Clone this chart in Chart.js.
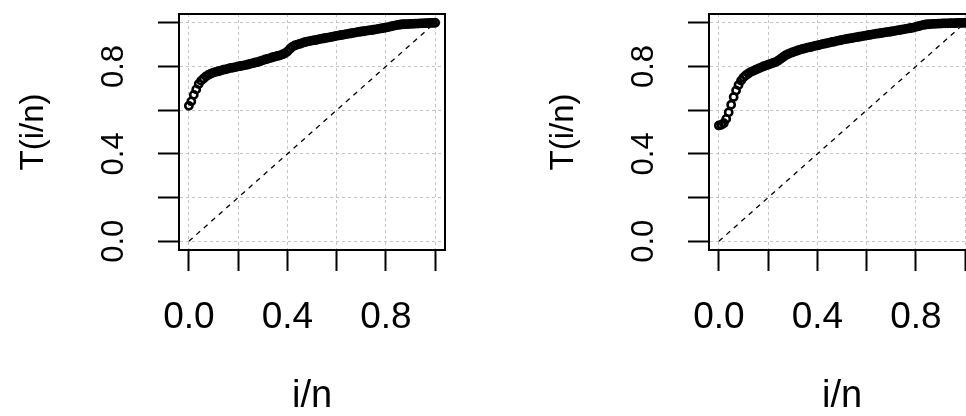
<!DOCTYPE html>
<html>
<head>
<meta charset="utf-8">
<script src="https://cdn.jsdelivr.net/npm/chart.js@4/dist/chart.umd.min.js"></script>
<style>
  html, body { margin: 0; padding: 0; background: #fff; overflow: hidden; }
  #wrap { position: relative; width: 966px; height: 416px; overflow: hidden; }
  canvas { position: absolute; top: 0; }
</style>
</head>
<body>
<div id="wrap">
  <canvas id="left" width="530" height="416" style="left:0px"></canvas>
  <canvas id="right" width="530" height="416" style="left:530px"></canvas>
</div>
<script>
// tick positions and the labels R printed (it skips every other one)
const tickVals = [0, 0.2, 0.4, 0.6, 0.8, 1.0];
const tickLabels = ['0.0', '', '0.4', '', '0.8', ''];

// reference diagonal
const diagX = [0, 1];
const diagY = [0, 1];

// T(i/n), i = 0..100
const leftT = [
  0.62, 0.64, 0.67, 0.695, 0.72, 0.735, 0.745, 0.755, 0.762, 0.767,
  0.772, 0.775, 0.778, 0.781, 0.785, 0.787, 0.79, 0.793, 0.795, 0.797,
  0.80, 0.802, 0.804, 0.806, 0.809, 0.812, 0.815, 0.818, 0.82, 0.824,
  0.828, 0.832, 0.835, 0.838, 0.842, 0.845, 0.848, 0.851, 0.855, 0.86,
  0.868, 0.88, 0.89, 0.896, 0.90, 0.903, 0.907, 0.911, 0.914, 0.916,
  0.918, 0.92, 0.922, 0.925, 0.927, 0.929, 0.931, 0.933, 0.935, 0.938,
  0.94, 0.942, 0.944, 0.946, 0.948, 0.95, 0.952, 0.954, 0.956, 0.958,
  0.96, 0.961, 0.963, 0.965, 0.966, 0.968, 0.97, 0.972, 0.974, 0.976,
  0.978, 0.98, 0.983, 0.986, 0.988, 0.99, 0.992, 0.993, 0.994, 0.994,
  0.995, 0.995, 0.996, 0.996, 0.997, 0.997, 0.998, 0.998, 0.999, 0.999,
  1.0
];

const rightT = [
  0.53, 0.533, 0.54, 0.56, 0.59, 0.625, 0.66, 0.69, 0.715, 0.735,
  0.75, 0.76, 0.768, 0.775, 0.78, 0.785, 0.79, 0.795, 0.80, 0.804,
  0.808, 0.812, 0.816, 0.82, 0.826, 0.834, 0.842, 0.85, 0.856, 0.861,
  0.865, 0.869, 0.873, 0.877, 0.88, 0.883, 0.886, 0.888, 0.891, 0.894,
  0.896, 0.899, 0.902, 0.904, 0.907, 0.909, 0.912, 0.914, 0.917, 0.919,
  0.922, 0.924, 0.926, 0.928, 0.93, 0.932, 0.934, 0.936, 0.938, 0.94,
  0.942, 0.944, 0.946, 0.948, 0.95, 0.951, 0.953, 0.955, 0.957, 0.958,
  0.96, 0.962, 0.964, 0.966, 0.968, 0.97, 0.972, 0.974, 0.976, 0.978,
  0.981, 0.984, 0.987, 0.99, 0.992, 0.993, 0.994, 0.995, 0.995, 0.996,
  0.996, 0.997, 0.997, 0.997, 0.998, 0.998, 0.998, 0.999, 0.999, 0.999,
  1.0
];

const FONT = '"Liberation Sans", Arial, sans-serif';

// full box round the plot region + rotated y tick labels, R style
const rBoxPlugin = {
  id: 'rBox',
  afterDraw(chart) {
    const ctx = chart.ctx;
    const a = chart.chartArea;
    ctx.save();
    ctx.strokeStyle = '#000';
    ctx.lineWidth = 2;
    ctx.strokeRect(a.left, a.top, a.right - a.left, a.bottom - a.top);

    const ys = chart.scales.y;
    ctx.fillStyle = '#000';
    ctx.font = '31px ' + FONT;
    ctx.textAlign = 'center';
    ctx.textBaseline = 'middle';
    tickVals.forEach((v, i) => {
      if (!tickLabels[i]) return;
      ctx.save();
      ctx.translate(114, ys.getPixelForValue(v));
      ctx.rotate(-Math.PI / 2);
      ctx.fillText(tickLabels[i], 0, 0);
      ctx.restore();
    });
    ctx.restore();
  }
};

function makeChart(id, values) {
  const n = values.length - 1;
  const pts = values.map((v, i) => ({ x: i / n, y: v }));
  const diag = diagX.map((x, i) => ({ x: x, y: diagY[i] }));

  const gridOpts = {
    color: '#c4c4c4',
    lineWidth: 1,
    drawTicks: true,
    tickLength: 21,
    tickColor: '#000',
    tickWidth: 2
  };
  const borderOpts = { display: true, color: '#000', width: 2, dash: [3, 3] };

  return new Chart(document.getElementById(id).getContext('2d'), {
    type: 'scatter',
    data: {
      datasets: [
        {
          data: pts,
          showLine: false,
          pointStyle: 'circle',
          pointRadius: 3.6,
          pointBorderWidth: 2.6,
          borderColor: '#000',
          backgroundColor: 'rgba(0,0,0,0)'
        },
        {
          type: 'line',
          data: diag,
          borderColor: '#000',
          borderWidth: 1.3,
          borderDash: [5, 5],
          pointRadius: 0,
          fill: false
        }
      ]
    },
    options: {
      responsive: false,
      animation: false,
      layout: { padding: { left: 0, top: 14, right: 85, bottom: 0 } },
      plugins: { legend: { display: false }, tooltip: { enabled: false } },
      scales: {
        x: {
          type: 'linear',
          position: 'bottom',
          min: -0.04,
          max: 1.04,
          afterBuildTicks: s => { s.ticks = tickVals.map(v => ({ value: v })); },
          afterFit: s => { s.height = 166; },
          grid: gridOpts,
          border: borderOpts,
          ticks: {
            color: '#000',
            autoSkip: false,
            maxRotation: 0,
            padding: 25,
            font: { size: 37, family: FONT },
            callback: (v, i) => tickLabels[i]
          },
          title: {
            display: true,
            text: 'i/n',
            color: '#000',
            font: { size: 38, family: FONT, lineHeight: 1 },
            padding: { top: 0, bottom: 0 }
          }
        },
        y: {
          type: 'linear',
          position: 'left',
          min: -0.04,
          max: 1.04,
          afterBuildTicks: s => { s.ticks = tickVals.map(v => ({ value: v })); },
          afterFit: s => { s.width = 179; },
          grid: gridOpts,
          border: borderOpts,
          ticks: { display: false },
          title: {
            display: true,
            text: 'T(i/n)',
            color: '#000',
            font: { size: 33, family: FONT, lineHeight: 1.2 },
            padding: { top: 14, bottom: 0 }
          }
        }
      }
    },
    plugins: [rBoxPlugin]
  });
}

document.addEventListener('DOMContentLoaded', function() {
  makeChart('left', leftT);
  makeChart('right', rightT);
});
</script>
</body>
</html>
